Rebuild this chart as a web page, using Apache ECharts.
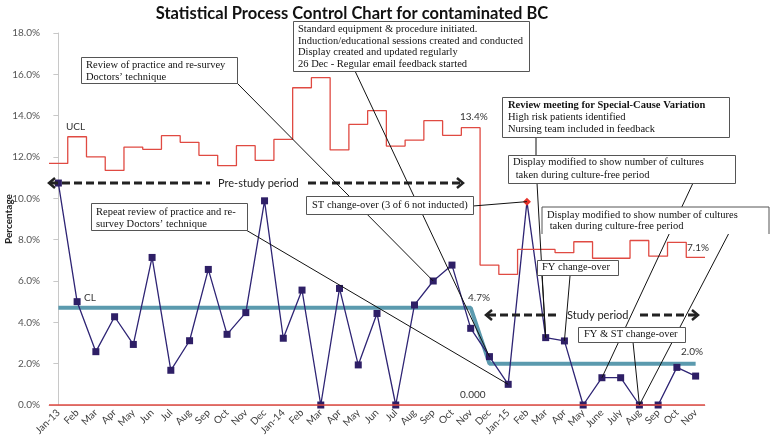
<!DOCTYPE html>
<html><head><meta charset="utf-8">
<script src="https://cdn.jsdelivr.net/npm/echarts@6/dist/echarts.min.js"></script>
<style>html,body{margin:0;padding:0;background:#fff}#c{width:770px;height:441px}</style>
</head><body><div id="c"></div>
<script>
var categories = ['Jan-13','Feb-13','Mar-13','Apr-13','May-13','Jun-13','Jul-13','Aug-13','Sep-13','Oct-13','Nov-13','Dec-13',
  'Jan-14','Feb-14','Mar-14','Apr-14','May-14','Jun-14','Jul-14','Aug-14','Sep-14','Oct-14','Nov-14','Dec-14',
  'Jan-15','Feb-15','Mar-15','Apr-15','May-15','Jun-15','Jul-15','Aug-15','Sep-15','Oct-15','Nov-15'];
var tickLabels = ['Jan-13','Feb','Mar','Apr','May','Jun','Jul','Aug','Sep','Oct','Nov','Dec',
  'Jan-14','Feb','Mar','Apr','May','Jun','Jul','Aug','Sep','Oct','Nov','Dec',
  'Jan-15','Feb','Mar','Apr','May','June','July','Aug','Sep','Oct','Nov'];
var contaminated = [10.74,5.0,2.58,4.27,2.93,7.14,1.68,3.11,6.56,3.42,4.47,9.88,
  3.23,5.56,0,5.64,1.94,4.43,0,4.84,6.0,6.77,3.71,2.34,
  1.0,9.84,3.26,3.1,0,1.32,1.32,0,0,1.82,1.40];
var ucl = [11.69,12.98,12.01,11.35,12.48,12.37,13.03,12.71,12.08,11.58,12.55,11.84,
  12.85,15.35,15.84,12.34,13.58,14.24,12.53,12.82,13.76,13.05,13.42,6.77,
  6.32,7.53,7.53,7.37,7.9,7.1,7.1,7.96,7.2,7.87,7.14];
var cl = [4.7,4.7,4.7,4.7,4.7,4.7,4.7,4.7,4.7,4.7,4.7,4.7,
  4.7,4.7,4.7,4.7,4.7,4.7,4.7,4.7,4.7,4.7,4.7,2.0,
  2.0,2.0,2.0,2.0,2.0,2.0,2.0,2.0,2.0,2.0,2.0];
var lcl = 0;
var yTicks = {min:0, max:18, interval:2};

var chart = echarts.init(document.getElementById('c'));
var uclData = ucl.map(function(v,i){return [i-0.5, v];});
uclData.push([ucl.length-0.5, ucl[ucl.length-1]]);
var mainData = contaminated.map(function(v,i){
  if (i===25) return {value:v, symbol:'diamond', symbolSize:8, itemStyle:{color:'#e8322a'}};
  return v;
});
var SERIF = '"Liberation Serif", "Times New Roman", serif';
var SANS = 'Lato, "Open Sans", sans-serif';

chart.setOption({
  animation:false,
  title:{text:'Statistical Process Control Chart for contaminated BC', left:347, top:0, textAlign:'center', z:200,
    textStyle:{fontFamily:SANS, fontWeight:'bold', fontSize:16.5, color:'#111'}},
  grid:{left:49, right:65, top:33, bottom:36, containLabel:false, outerBoundsMode:'none'},
  xAxis:[{type:'category', data:categories, boundaryGap:true,
      axisLine:{lineStyle:{color:'#c8c8c8'}}, axisTick:{length:5, lineStyle:{color:'#c8c8c8'}},
      axisLabel:{interval:0, rotate:45, fontFamily:SANS, fontSize:10, color:'#404040', margin:6,
        formatter:function(v,i){return tickLabels[i];}}},
    {type:'value', min:-0.5, max:34.5, show:false}],
  yAxis:{type:'value', min:yTicks.min, max:yTicks.max, interval:yTicks.interval,
    name:'Percentage', nameLocation:'middle', nameGap:35, nameRotate:90, nameMoveOverlap:false,
    nameTextStyle:{fontFamily:SANS, fontWeight:'bold', fontSize:10, color:'#222'},
    axisLine:{show:true, lineStyle:{color:'#c8c8c8'}}, axisTick:{show:true, length:5, lineStyle:{color:'#c8c8c8'}},
    splitLine:{show:false},
    axisLabel:{fontFamily:SANS, fontSize:10, color:'#555', margin:9, formatter:function(v){return v.toFixed(1)+'%';}}},
  series:[
    {type:'line', name:'Contaminated', data:mainData, xAxisIndex:0, symbol:'rect', symbolSize:7, z:3,
      lineStyle:{color:'#2e2474', width:1.3}, itemStyle:{color:'#2e1f66'}},
    {type:'line', name:'CL', data:cl, xAxisIndex:0, symbol:'none', z:2,
      lineStyle:{color:'#5b9aae', width:4}},
    {type:'line', name:'UCL', data:uclData, xAxisIndex:1, step:'end', symbol:'none', z:4,
      lineStyle:{color:'#e04a42', width:1.3},
      markLine:{silent:true, symbol:'none', label:{show:false}, data:[{yAxis:lcl}],
        lineStyle:{color:'#e04a42', width:1.5, type:'solid'}}}
  ]
});

function px(i){ return chart.convertToPixel({xAxisIndex:0, yAxisIndex:0}, [i, contaminated[i]]); }
var g = [];
function line(x1,y1,x2,y2){ g.push({type:'line', z:100, shape:{x1:x1,y1:y1,x2:x2,y2:y2}, style:{stroke:'#111', lineWidth:1}}); }
function leader(x,y,i){ var p = px(i); line(x,y,p[0],p[1]); }
function box(x,y,w,h,text,lh,tx,ty,rich,noBottom){
  if (noBottom) {
    g.push({type:'rect', z:101, shape:{x:x,y:y,width:w,height:h}, style:{fill:'#fff', stroke:null}});
    g.push({type:'polyline', z:102, shape:{points:[[x,y+h],[x,y],[x+w,y],[x+w,y+h]]}, style:{fill:null, stroke:'#555', lineWidth:1}});
  } else {
    g.push({type:'rect', z:101, shape:{x:x+0.5,y:y+0.5,width:w,height:h}, style:{fill:'#fff', stroke:'#555', lineWidth:1}});
  }
  g.push({type:'text', z:103, x:tx, y:ty, style:{text:text, fontFamily:SERIF, fontSize:10.5, lineHeight:lh, fill:'#111', rich:rich||{}}});
}
function label(x,y,t,opts){ g.push({type:'text', z:105, x:x, y:y, style:Object.assign({text:t, fontFamily:SANS, fontSize:10, fill:'#333', textVerticalAlign:'middle'}, opts||{})}); }
function dashArrow(segs, y, left, right){
  segs.forEach(function(s){ g.push({type:'line', z:99, shape:{x1:s[0],y1:y,x2:s[1],y2:y}, style:{stroke:'#222', lineWidth:3, lineDash:[8,4]}}); });
  g.push({type:'polyline', z:99, shape:{points:[[left+6,y-5],[left,y],[left+6,y+5]]}, style:{stroke:'#222', lineWidth:2.5, fill:null}});
  g.push({type:'polyline', z:99, shape:{points:[[right-6,y-5],[right,y],[right-6,y+5]]}, style:{stroke:'#222', lineWidth:2.5, fill:null}});
}

// leader lines
leader(237,83,20);
leader(355,71,23);
leader(246,230,24);
leader(473,206,25);
line(536,137,536,155);
leader(537,183,26);
leader(542,276,26);
leader(570,276,27);
leader(693,183,29);
leader(729,233,31);
leader(633,342,31);

// boxes
box(81,57,156,26,'Review of practice and re-survey\nDoctors\u2019 technique',12,86,59);
box(293,21,236,50,'Standard equipment & procedure initiated.\nInduction/educational sessions created and conducted\nDisplay created and updated regularly\n26 Dec - Regular email feedback started',11.4,298,24);
box(91,203,156,27,'Repeat review of practice and re-\nsurvey Doctors\u2019 technique',12,96,206);
box(306,196,167,18,'ST change-over (3 of 6 not inducted)',12,312,199);
box(502,97,227,40,'{b|Review meeting for Special-Cause Variation}\nHigh risk patients identified\nNursing team included in feedback',11.7,508,99.5,
  {b:{fontFamily:SERIF, fontSize:10.5, fontWeight:'bold', fill:'#111', lineHeight:11.7}});
box(508,155,227,28,'Display modified to show number of cultures\n taken during culture-free period',12.5,513,156);
box(542,207,227,27,'Display modified to show number of cultures\n taken during culture-free period',11,547,210,null,true);
box(537,260,81,15,'FY change-over',12,542,261.5);
box(578,327,107,15,'FY & ST change-over',12,584,328.5);

// text labels
label(66,127,'UCL');
label(84,298,'CL');
label(460,117,'13.4%');
label(687,248,'7.1%');
label(468,298,'4.7%');
label(681,352,'2.0%');
label(460,395,'0.000');

// period arrows
dashArrow([[50,210],[308,460]],183,49,463);
label(218,183,'Pre-study period',{fontSize:11, fill:'#222'});
dashArrow([[488,560],[640,696]],315,486,698);
label(567,315,'Study period',{fontSize:11, fill:'#222'});

chart.setOption({graphic:g});
</script></body></html>
